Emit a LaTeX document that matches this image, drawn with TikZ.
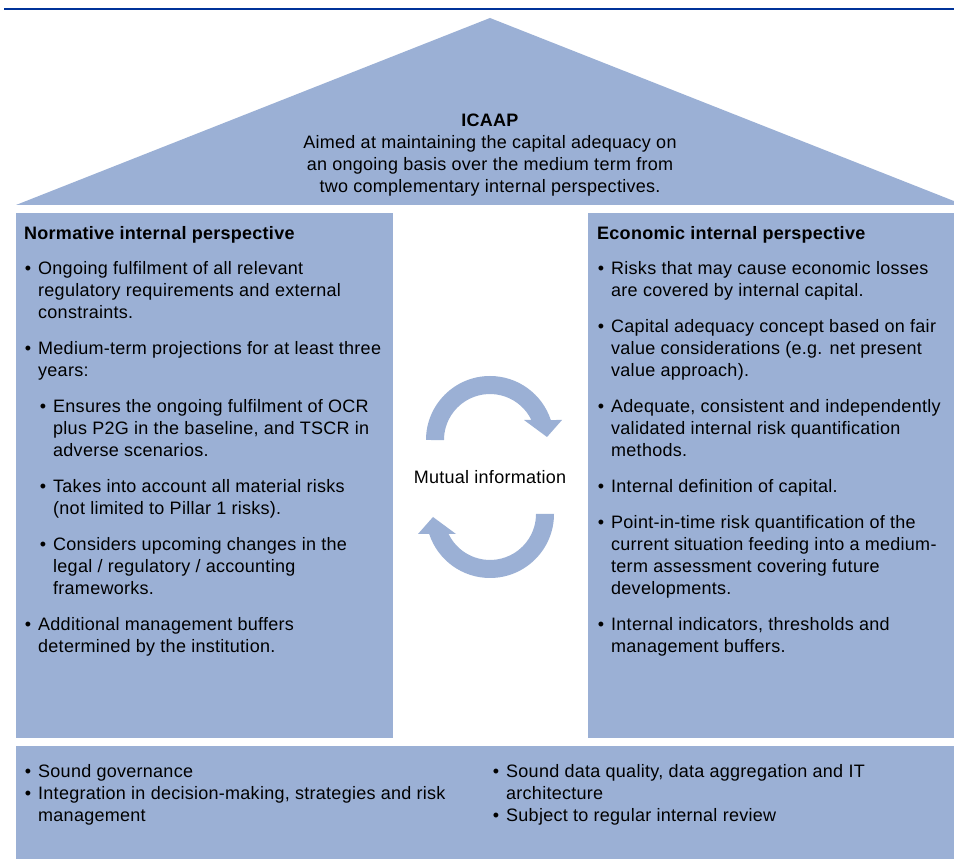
\documentclass[tikz,border=0pt]{standalone}
\usepackage{fontspec}
\setmainfont{Liberation Sans}[LetterSpace=1.5]
\definecolor{pillar}{RGB}{155,176,213}
\definecolor{topline}{RGB}{0,51,153}
\newcommand{\fsz}{\fontsize{18}{22}\selectfont}
\newcommand{\bul}{\llap{\textbullet\hspace{7pt}}}
\begin{document}
\begin{tikzpicture}[x=1pt,y=1pt,
  part/.style={fill=pillar,draw=none},
  txt/.style={anchor=north west,inner sep=0pt,align=left,font=\fsz},
  ctxt/.style={anchor=north,inner sep=0pt,align=center,font=\fsz},
  circarrow/.style={fill=pillar,draw=none}]
\clip (0,0) rectangle (954,865);
\fill[white] (0,0) rectangle (954,865);
% top rule
\draw[topline,line width=2pt] (4,856) -- (954,856);
% roof
\fill[part] (16,660) -- (490,847) -- (964,660) -- cycle;
% pillars
\fill[part] (16,127) rectangle (393,652);
\fill[part] (588,127) rectangle (960,652);
% foundation
\fill[part] (16,6) rectangle (960,119);
% roof text
\node[ctxt] (icaap) at (490,754.4) {\strut\textbf{ICAAP}\\Aimed at maintaining the capital adequacy on\\an ongoing basis over the medium term from\\two complementary internal perspectives.};
% left pillar
\node[txt] (nh) at (24,641.4) {\strut\textbf{Normative internal perspective}};
\node[txt] (n1) at (38,606.4) {\strut\bul Ongoing fulfilment of all relevant\\regulatory requirements and external\\constraints.};
\node[txt] (n2) at (38,526.4) {\strut\bul Medium-term projections for at least three\\years:};
\node[txt] (n2a) at (53,468.4) {\strut\bul Ensures the ongoing fulfilment of OCR\\plus P2G in the baseline, and TSCR in\\adverse scenarios.};
\node[txt] (n2b) at (53,388.4) {\strut\bul Takes into account all material risks\\(not limited to Pillar 1 risks).};
\node[txt] (n2c) at (53,330.4) {\strut\bul Considers upcoming changes in the\\legal / regulatory / accounting\\frameworks.};
\node[txt] (n3) at (38,250.4) {\strut\bul Additional management buffers\\determined by the institution.};
% right pillar
\node[txt] (eh) at (597,641.4) {\strut\textbf{Economic internal perspective}};
\node[txt] (e1) at (611,606.4) {\strut\bul Risks that may cause economic losses\\are covered by internal capital.};
\node[txt] (e2) at (611,548.4) {\strut\bul Capital adequacy concept based on fair\\value considerations (e.g. net present\\value approach).};
\node[txt] (e3) at (611,468.4) {\strut\bul Adequate, consistent and independently\\validated internal risk quantification\\methods.};
\node[txt] (e4) at (611,388.4) {\strut\bul Internal definition of capital.};
\node[txt] (e5) at (611,352.4) {\strut\bul Point-in-time risk quantification of the\\current situation feeding into a medium-\\term assessment covering future\\developments.};
\node[txt] (e6) at (611,250.4) {\strut\bul Internal indicators, thresholds and\\management buffers.};
% middle
\node[font=\fsz,inner sep=0pt] (mutual) at (490,388) {Mutual information};
% circular arrows
\fill[circarrow] (426,425) arc[start angle=180,end angle=18.2,radius=64]
  -- (562,445) -- (547,428) -- (524,445) -- (531.4,445)
  arc[start angle=25.8,end angle=180,radius=46] -- cycle;
\fill[circarrow] (554,351) arc[start angle=0,end angle=-161.8,radius=64]
  -- (418,331) -- (433,348) -- (456,331) -- (448.6,331)
  arc[start angle=-154.2,end angle=0,radius=46] -- cycle;
% foundation text
\node[txt] (f1) at (38,103.4) {\strut\bul Sound governance\\\bul Integration in decision-making, strategies and risk\\management};
\node[txt] (f2) at (506,103.4) {\strut\bul Sound data quality, data aggregation and IT\\architecture\\\bul Subject to regular internal review};
\end{tikzpicture}
\end{document}
